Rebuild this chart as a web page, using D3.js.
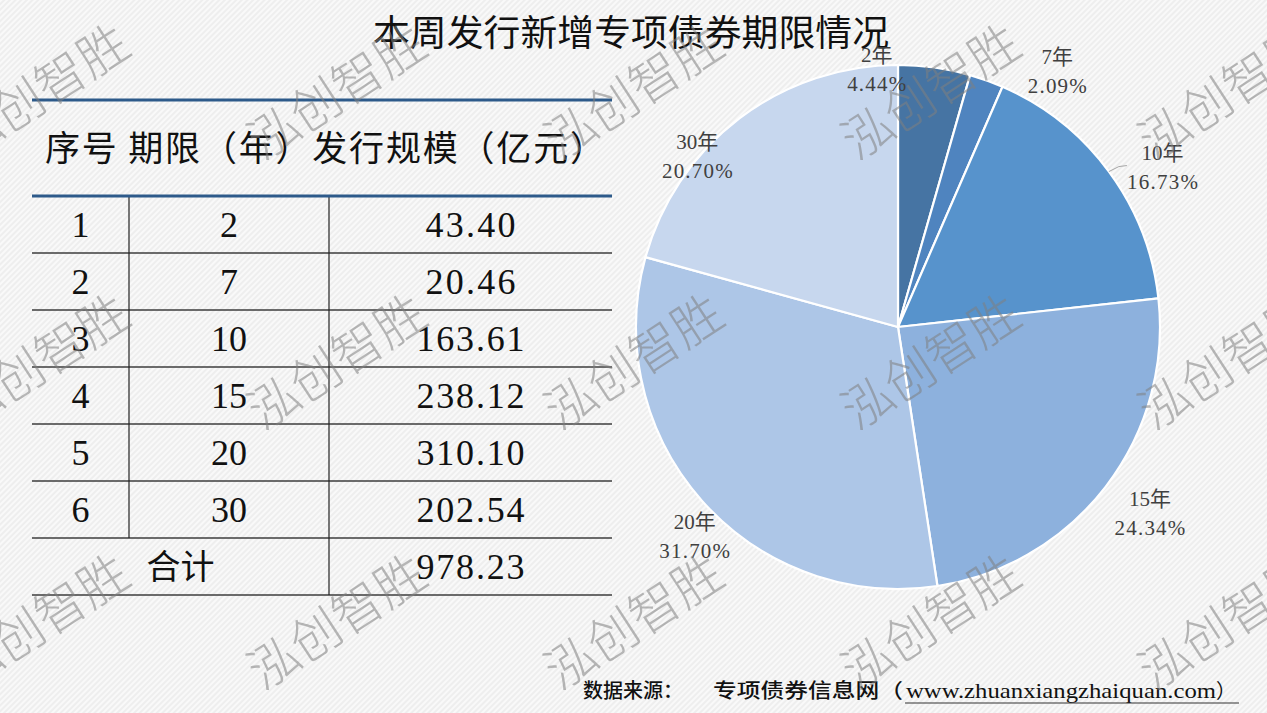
<!DOCTYPE html>
<html>
<head>
<meta charset="utf-8">
<script src="https://cdn.jsdelivr.net/npm/d3@7"></script>
<style>
  body { margin: 0; background: #f2f2f2; }
  svg { display: block; }
</style>
</head>
<body>
<div id="chart"></div>
<script>
// data
var terms = ["2", "7", "10", "15", "20", "30"];
var amounts = [43.40, 20.46, 163.61, 238.12, 310.10, 202.54];
var shares = ["4.44%", "2.09%", "16.73%", "24.34%", "31.70%", "20.70%"];
var totalLabel = "978.23";
var headers = ["序号", "期限（年）", "发行规模（亿元）"];
var sliceColors = ["#4674a3", "#4f84bf", "#5793cc", "#8db1dd", "#adc6e7", "#c7d7ee"];

var width = 1267, height = 713;
var serif = "'Liberation Serif', 'Noto Sans CJK SC', serif";
var sans = "'Noto Sans CJK SC', sans-serif";

var svg = d3.select("#chart")
  .append("svg")
    .attr("width", width)
    .attr("height", height);

// hatched background
var defs = svg.append("defs");
var pat = defs.append("pattern")
    .attr("id", "hatch")
    .attr("width", 4)
    .attr("height", 4)
    .attr("patternUnits", "userSpaceOnUse")
    .attr("patternTransform", "rotate(-45)");
pat.append("rect").attr("width", 4).attr("height", 4).attr("fill", "#eeeeee");
pat.append("rect").attr("width", 4).attr("height", 2).attr("fill", "#f9f9f9");
svg.append("rect")
    .attr("width", width)
    .attr("height", height)
    .attr("fill", "url(#hatch)");

// title
svg.append("text")
    .attr("x", 631)
    .attr("y", 46)
    .attr("text-anchor", "middle")
    .style("font-family", sans)
    .style("font-size", "36px")
    .style("fill", "#111")
    .attr("textLength", 516)
    .attr("lengthAdjust", "spacingAndGlyphs")
    .text("本周发行新增专项债券期限情况");

// ---------- table ----------
var tableLeft = 32, tableRight = 612;
var colEdges = [tableLeft, 129, 329, tableRight];
var colMid = function(i) { return (colEdges[i] + colEdges[i + 1]) / 2; };
var rowY = d3.scaleLinear().domain([0, 7]).range([196, 595]);
var table = svg.append("g");

// horizontal thin lines
d3.range(1, 8).forEach(function(i) {
  table.append("line")
      .attr("x1", tableLeft).attr("x2", tableRight)
      .attr("y1", rowY(i)).attr("y2", rowY(i))
      .attr("stroke", "#3c3c3c")
      .attr("stroke-width", 1.6);
});
// vertical lines
table.append("line")
    .attr("x1", colEdges[1]).attr("x2", colEdges[1])
    .attr("y1", rowY(0)).attr("y2", rowY(6))
    .attr("stroke", "#222").attr("stroke-width", 1.2);
table.append("line")
    .attr("x1", colEdges[2]).attr("x2", colEdges[2])
    .attr("y1", rowY(0)).attr("y2", rowY(7))
    .attr("stroke", "#222").attr("stroke-width", 1.2);
// thick blue rules
[100, rowY(0)].forEach(function(y) {
  table.append("line")
      .attr("x1", tableLeft).attr("x2", tableRight)
      .attr("y1", y).attr("y2", y)
      .attr("stroke", "#2d5a8a")
      .attr("stroke-width", 3.2);
});

// header
table.append("text")
    .attr("x", 45)
    .attr("y", 161)
    .style("font-family", sans)
    .style("font-size", "35px")
    .style("fill", "#111")
    .attr("textLength", 560)
    .attr("lengthAdjust", "spacing")
    .text(headers[0] + " " + headers[1] + headers[2]);

function cell(x, y, txt, cjk) {
  var t = table.append("text")
      .attr("x", x)
      .attr("y", y)
      .attr("text-anchor", "middle")
      .attr("dy", "0.36em")
      .style("font-family", cjk ? sans : serif)
      .style("font-size", cjk ? "34px" : "36px")
      .style("fill", "#111")
      .text(txt);
  if (!cjk && txt.length > 1) {
    t.attr("textLength", txt.length * 18).attr("lengthAdjust", "spacing");
  }
}

amounts.forEach(function(v, i) {
  var yc = (rowY(i) + rowY(i + 1)) / 2;
  cell(colMid(0), yc, String(i + 1));
  cell(colMid(1), yc, terms[i]);
  cell(colMid(2), yc, v.toFixed(2));
});
var yTotal = (rowY(6) + rowY(7)) / 2;
cell((colEdges[0] + colEdges[2]) / 2, yTotal, "合计", true);
cell(colMid(2), yTotal, totalLabel);

// ---------- pie ----------
var cx = 898, cy = 327, radius = 262;
var pie = d3.pie().sort(null).value(function(d) { return d.value; });
var pieData = pie(terms.map(function(t, i) {
  return {term: t, value: amounts[i], share: shares[i], color: sliceColors[i]};
}));
var arc = d3.arc().innerRadius(0).outerRadius(radius);
var labelArc = d3.arc().innerRadius(300).outerRadius(300);
var edgeArc = d3.arc().innerRadius(radius).outerRadius(radius);

var pg = svg.append("g").attr("transform", "translate(" + cx + "," + cy + ")");
pg.selectAll("path")
  .data(pieData)
  .enter()
  .append("path")
    .attr("d", arc)
    .attr("fill", function(d) { return d.data.color; })
    .attr("stroke", "#fff")
    .attr("stroke-width", 2.2)
    .attr("stroke-linejoin", "round");

// manual label nudges (Excel places them by hand)
var labelNudge = [[-63, 40], [58, 27], [23, 19], [14, 4], [21, 11], [-19, 69]];

// leader line for the 10年 label
var e = edgeArc.centroid(pieData[2]);
pg.append("polyline")
    .attr("points", [[e[0], e[1]], [e[0] + 10, e[1] - 5], [e[0] + 18, e[1] - 6]].join(" "))
    .attr("fill", "none")
    .attr("stroke", "#a6a6a6")
    .attr("stroke-width", 1);

var labels = pg.selectAll("g.lab")
  .data(pieData)
  .enter()
  .append("g")
    .attr("class", "lab")
    .attr("transform", function(d, i) {
      var c = labelArc.centroid(d);
      return "translate(" + (c[0] + labelNudge[i][0]) + "," + (c[1] + labelNudge[i][1]) + ")";
    });
labels.append("text")
    .attr("text-anchor", "middle")
    .attr("y", -8)
    .style("font-family", serif)
    .style("font-size", "21px")
    .style("fill", "#404040")
    .text(function(d) { return d.data.term + "年"; });
labels.append("text")
    .attr("text-anchor", "middle")
    .attr("y", 21)
    .style("font-family", serif)
    .style("font-size", "21px")
    .style("fill", "#404040")
    .attr("textLength", function(d) { return d.data.share.length * 11.8; })
    .attr("lengthAdjust", "spacing")
    .text(function(d) { return d.data.share; });

// ---------- footer ----------
var foot = svg.append("g").style("fill", "#111");
foot.append("text")
    .attr("x", 583).attr("y", 698)
    .style("font-family", sans).style("font-size", "20px").style("font-weight", 500)
    .text("数据来源：");
foot.append("text")
    .attr("x", 713).attr("y", 698)
    .style("font-family", sans).style("font-size", "20px").style("font-weight", 500)
    .attr("textLength", 190).attr("lengthAdjust", "spacingAndGlyphs")
    .text("专项债券信息网（");
foot.append("text")
    .attr("x", 906).attr("y", 698)
    .style("font-family", serif).style("font-size", "22px")
    .attr("textLength", 310).attr("lengthAdjust", "spacingAndGlyphs")
    .text("www.zhuanxiangzhaiquan.com");
foot.append("text")
    .attr("x", 1216).attr("y", 698)
    .style("font-family", sans).style("font-size", "20px")
    .text("）");
foot.append("line")
    .attr("x1", 905).attr("x2", 1239)
    .attr("y1", 703).attr("y2", 703)
    .attr("stroke", "#333").attr("stroke-width", 1.2);

// ---------- watermark ----------
var wmX = d3.range(5).map(function(i) { return 40 + 297 * i; });
var wmY = [92, 362, 622];
var wm = svg.append("g").style("pointer-events", "none");
wmY.forEach(function(y) {
  wmX.forEach(function(x) {
    wm.append("text")
        .attr("transform", "translate(" + x + "," + y + ") rotate(-33)")
        .attr("text-anchor", "middle")
        .attr("dy", "0.35em")
        .style("font-family", sans)
        .style("font-size", "50px")
        .style("font-weight", 300)
        .style("fill", "#808080")
        .style("fill-opacity", 0.55)
        .text("泓创智胜");
  });
});
</script>
</body>
</html>
